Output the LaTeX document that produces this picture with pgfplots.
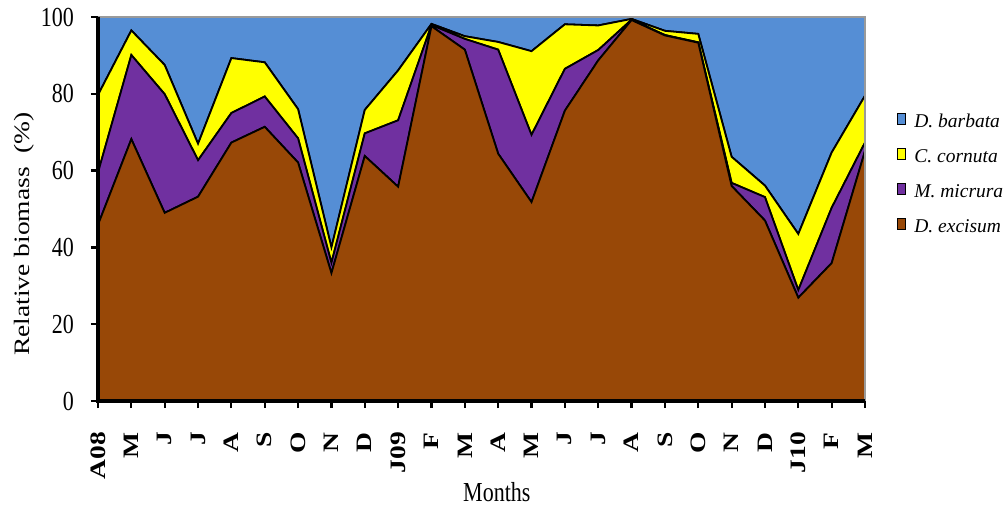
\documentclass[border=0pt]{standalone}
\usepackage{pgfplots}
\pgfplotsset{compat=1.18}
\usepackage{pgfplotstable}
\usepackage{graphicx}
\usepackage{fontspec}
\setmainfont{Liberation Serif}

\definecolor{barbata}{HTML}{558ED5}
\definecolor{cornuta}{HTML}{FFFF00}
\definecolor{micrura}{HTML}{7030A0}
\definecolor{excisum}{HTML}{984807}
\definecolor{frame}{HTML}{9A9A9A}

% horizontal text is set a little taller than wide, rotated text a little longer
\newcommand\tk[1]{\scalebox{1}[1.25]{#1}}
\newcommand\vt[1]{\scalebox{1.25}[1]{#1}}
\newcommand\mo[1]{\vt{\bfseries #1}}

% relative biomass (%) of each species per month, Apr 2008 -- Mar 2010
\pgfplotstableread{
m  exc   mic   cor   bar
0  45.9  13.6  20.2  20.3
1  68.2  21.9   6.4   3.5
2  49.0  30.9   7.6  12.5
3  53.2   9.5   4.3  33.0
4  67.3   7.7  14.3  10.7
5  71.4   7.9   8.9  11.8
6  62.1   6.3   7.6  24.0
7  33.3   2.7   4.0  60.0
8  63.8   5.9   6.1  24.2
9  55.8  17.3  13.0  13.9
10 97.6   0.3   0.3   1.8
11 91.5   2.8   0.7   5.0
12 64.4  27.1   2.0   6.5
13 51.8  17.5  21.8   8.9
14 75.6  10.9  11.6   1.9
15 88.7   2.7   6.4   2.2
16 99.2   0.1   0.2   0.5
17 95.2   0.1   1.1   3.6
18 93.3   0.1   2.2   4.4
19 56.0   0.8   6.8  36.4
20 47.0   6.1   3.0  43.9
21 26.9   2.0  14.6  56.5
22 35.9  14.4  14.4  35.3
23 65.1   2.2  12.2  20.5
}\biomass

\begin{document}
\begin{tikzpicture}
\useasboundingbox (0pt,0pt) rectangle (1005pt,507pt);
\begin{axis}[
  at={(98pt,106pt)}, anchor=south west,
  scale only axis, width=767pt, height=384pt,
  xmin=0, xmax=23, ymin=0, ymax=100,
  stack plots=y,
  axis lines=left,
  axis line style={draw=none},
  xtick={0,...,23},
  xticklabels={\mo{A08},\mo{M},\mo{J},\mo{J},\mo{A},\mo{S},\mo{O},\mo{N},\mo{D},\mo{J09},\mo{F},\mo{M},\mo{A},\mo{M},\mo{J},\mo{J},\mo{A},\mo{S},\mo{O},\mo{N},\mo{D},\mo{J10},\mo{F},\mo{M}},
  ytick={0,20,...,100},
  /pgf/number format/assume math mode=true,
  yticklabel={\tk{\pgfmathprintnumber{\tick}}},
  tick align=outside,
  major tick length=7pt,
  tick style={black, line width=2.2pt},
  yticklabel shift=17pt,
  xticklabel shift=24pt,
  yticklabel style={font=\fontsize{22}{26}\selectfont, anchor=east, inner sep=0pt},
  xticklabel style={font=\fontsize{22}{26}\selectfont, rotate=90, anchor=east, inner sep=0pt},
  xlabel={\tk{Months}},
  xlabel style={font=\fontsize{22}{26}\selectfont, at={(axis description cs:0.520,-0.238)}, anchor=center, inner sep=0pt},
  ylabel={\vt{Relative biomass\ \ (\%)}},
  ylabel style={font=\fontsize{22}{26}\selectfont, at={(axis description cs:-0.0965,0.435)}, anchor=center, inner sep=0pt},
  reverse legend,
  legend cell align=left,
  legend image code/.code={\draw[#1, draw=black, line width=0.9pt] (0pt,-3pt) rectangle (8.5pt,8pt);},
  legend style={at={(axis description cs:1.0417,0.75)}, anchor=north west,
    draw=none, fill=none, inner sep=0pt, outer sep=0pt,
    font=\fontsize{19.5}{22}\selectfont\itshape, row sep=19.2pt,
    nodes={inner sep=0pt},
    /tikz/every odd column/.append style={column sep=8pt}},
  extra description/.code={
    \draw[frame, line width=2pt] (0,1) -- (1,1) -- (1,0);
    \draw[black, line width=3.5pt, line join=miter] (0,1) -- (0,0) -- (1,0);
  },
]
\addplot[fill=excisum, draw=black, line width=1.8pt] table[x=m, y=exc] {\biomass} \closedcycle;
\addlegendentry{D. excisum}
\addplot[fill=micrura, draw=black, line width=1.8pt] table[x=m, y=mic] {\biomass} \closedcycle;
\addlegendentry{M. micrura}
\addplot[fill=cornuta, draw=black, line width=1.8pt] table[x=m, y=cor] {\biomass} \closedcycle;
\addlegendentry{C. cornuta}
\addplot[fill=barbata, draw=black, line width=1.8pt] table[x=m, y=bar] {\biomass} \closedcycle;
\addlegendentry{D. barbata}
\end{axis}
\end{tikzpicture}
\end{document}
